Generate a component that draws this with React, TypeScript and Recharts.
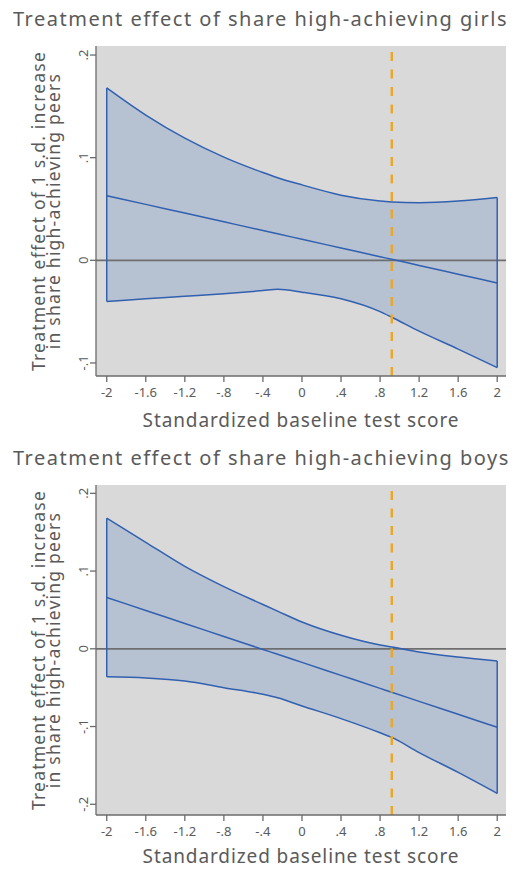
import React from "react"
import { ComposedChart, Area, Line, XAxis, YAxis, CartesianGrid, ReferenceLine } from "recharts"

const X_VALUES = [-2, -1.6, -1.2, -0.8, -0.4, -0.25, 0, 0.4, 0.8, 0.92, 1.2, 1.6, 2]
const X_TICKS = [-2, -1.6, -1.2, -0.8, -0.4, 0, 0.4, 0.8, 1.2, 1.6, 2]
const X_TICK_LABELS = ["-2", "-1.6", "-1.2", "-.8", "-.4", "0", ".4", ".8", "1.2", "1.6", "2"]
const CUTOFF = 0.92

// girls panel
const GIRLS_UPPER = [0.168, 0.1415, 0.119, 0.1005, 0.0855, 0.0805, 0.0735, 0.0635, 0.0578, 0.0569, 0.0561, 0.0577, 0.0613]
const GIRLS_MID = [0.063, 0.0545, 0.046, 0.0375, 0.029, 0.0258, 0.0205, 0.012, 0.0035, 0.001, -0.005, -0.0135, -0.022]
const GIRLS_LOWER = [-0.04, -0.0375, -0.035, -0.0325, -0.0295, -0.0283, -0.031, -0.0375, -0.05, -0.0555, -0.069, -0.0865, -0.1045]
const GIRLS_Y_TICKS = [-0.1, 0, 0.1, 0.2]
const GIRLS_Y_LABELS = ["-.1", "0", ".1", ".2"]

// boys panel
const BOYS_UPPER = [0.168, 0.137, 0.106, 0.08, 0.057, 0.0485, 0.0345, 0.0174, 0.0049, 0.0023, -0.004, -0.0105, -0.0157]
const BOYS_MID = [0.066, 0.0493, 0.0326, 0.0159, -0.0008, -0.0071, -0.0175, -0.0342, -0.0509, -0.0559, -0.0676, -0.0843, -0.101]
const BOYS_LOWER = [-0.036, -0.0375, -0.0415, -0.05, -0.0585, -0.063, -0.0735, -0.0898, -0.108, -0.114, -0.1335, -0.159, -0.186]
const BOYS_Y_TICKS = [-0.2, -0.1, 0, 0.1, 0.2]
const BOYS_Y_LABELS = ["-.2", "-.1", "0", ".1", ".2"]

const FONT = "'Noto Sans', sans-serif"
const TEXT = "#5a5a5a"
const AXIS = "#6b6b6b"
const BLUE = "#3160b0"
const BAND = "#b6c1d2"
const ORANGE = "#eaa82a"

const W = 529
const PLOT_LEFT = 96
const PLOT_RIGHT = 506

function XTick({ x, y, payload }: any) {
  const i = X_TICKS.indexOf(payload.value)
  return (
    <text x={x} y={y + 15} textAnchor="middle" fontFamily={FONT} fontSize={13} fill={TEXT}>
      {i >= 0 ? X_TICK_LABELS[i] : payload.value}
    </text>
  )
}

function makeYTick(ticks: number[], labels: string[]) {
  return ({ x, y, payload }: any) => {
    const i = ticks.indexOf(payload.value)
    return (
      <text x={x} y={y} transform={`rotate(-90 ${x} ${y})`} textAnchor="middle" fontFamily={FONT} fontSize={13} fill={TEXT}>
        {i >= 0 ? labels[i] : payload.value}
      </text>
    )
  }
}

interface PanelProps {
  title: string
  top: number
  height: number
  plotTop: number
  xAxisHeight: number
  xLabelGap: number
  upper: number[]
  mid: number[]
  lower: number[]
  yDomain: [number, number]
  yTicks: number[]
  yLabels: string[]
}

function Panel({ title, top, height, plotTop, xAxisHeight, xLabelGap, upper, mid, lower, yDomain, yTicks, yLabels }: PanelProps) {
  const data = X_VALUES.map((x, i) => ({ x, band: [lower[i], upper[i]], upper: upper[i], mid: mid[i], lower: lower[i] }))
  const plotBottom = height - xAxisHeight
  const plotMidY = (plotTop + plotBottom) / 2
  const last = X_VALUES.length - 1
  const YTick = makeYTick(yTicks, yLabels)

  return (
    <div style={{ position: "absolute", left: 0, top, width: W, height }}>
      <div
        style={{
          position: "absolute", left: 13, top: plotTop - 39, fontFamily: FONT, fontSize: 20,
          letterSpacing: "1.5px", lineHeight: "24px", color: TEXT, whiteSpace: "nowrap",
        }}
      >
        {title}
      </div>
      <div
        style={{
          position: "absolute", left: 46 - 200, top: plotMidY - 15, width: 400, height: 30,
          transform: "rotate(-90deg)", textAlign: "center", fontFamily: FONT, fontSize: 17.5,
          letterSpacing: "1.2px", lineHeight: "15px", color: TEXT, whiteSpace: "nowrap",
        }}
      >
        Treatment effect of 1 s.d. increase
        <br />
        in share high-achieving peers
      </div>
      <div
        style={{
          position: "absolute", left: (PLOT_LEFT + PLOT_RIGHT) / 2 - 200, top: plotBottom + xLabelGap - 8, width: 400,
          textAlign: "center", fontFamily: FONT, fontSize: 19, letterSpacing: "0.9px", lineHeight: "16px",
          color: TEXT,
        }}
      >
        Standardized baseline test score
      </div>
      <ComposedChart
        width={W}
        height={height}
        data={data}
        margin={{ top: plotTop, right: W - PLOT_RIGHT, bottom: 0, left: PLOT_LEFT - 60 }}
      >
        <CartesianGrid fill="#d9d9d9" stroke="none" horizontal={false} vertical={false} />
        <XAxis
          type="number"
          dataKey="x"
          domain={[-2.11, 2.09]}
          ticks={X_TICKS}
          allowDataOverflow
          height={xAxisHeight}
          tickSize={6}
          tickMargin={0}
          tick={<XTick />}
          axisLine={{ stroke: AXIS, strokeWidth: 1.3 }}
          tickLine={{ stroke: AXIS, strokeWidth: 1.3 }}
        />
        <YAxis
          type="number"
          domain={yDomain}
          ticks={yTicks}
          allowDataOverflow
          width={60}
          tickSize={6}
          tickMargin={2}
          tick={<YTick />}
          axisLine={{ stroke: AXIS, strokeWidth: 1.3 }}
          tickLine={{ stroke: AXIS, strokeWidth: 1.3 }}
        />
        <Area dataKey="band" type="monotone" fill={BAND} fillOpacity={1} stroke="none" isAnimationActive={false} />
        <ReferenceLine y={0} stroke="#6e6e6e" strokeWidth={1.8} />
        <Line dataKey="upper" type="monotone" stroke={BLUE} strokeWidth={1.5} dot={false} isAnimationActive={false} />
        <Line dataKey="mid" type="monotone" stroke={BLUE} strokeWidth={1.5} dot={false} isAnimationActive={false} />
        <Line dataKey="lower" type="monotone" stroke={BLUE} strokeWidth={1.5} dot={false} isAnimationActive={false} />
        <ReferenceLine
          segment={[{ x: X_VALUES[0], y: lower[0] }, { x: X_VALUES[0], y: upper[0] }]}
          stroke={BLUE}
          strokeWidth={1.5}
        />
        <ReferenceLine
          segment={[{ x: X_VALUES[last], y: lower[last] }, { x: X_VALUES[last], y: upper[last] }]}
          stroke={BLUE}
          strokeWidth={1.5}
        />
        <ReferenceLine x={CUTOFF} stroke={ORANGE} strokeWidth={2.5} strokeDasharray="9 8.5" />
      </ComposedChart>
    </div>
  )
}

export default function App() {
  return (
    <div style={{ position: "absolute", left: 0, top: 0, width: W, height: 869, background: "#fff" }}>
      <Panel
        title="Treatment effect of share high-achieving girls"
        top={0}
        height={435}
        plotTop={46}
        xAxisHeight={59}
        xLabelGap={44}
        upper={GIRLS_UPPER}
        mid={GIRLS_MID}
        lower={GIRLS_LOWER}
        yDomain={[-0.1127, 0.2088]}
        yTicks={GIRLS_Y_TICKS}
        yLabels={GIRLS_Y_LABELS}
      />
      <Panel
        title="Treatment effect of share high-achieving boys"
        top={435}
        height={434}
        plotTop={50}
        xAxisHeight={54}
        xLabelGap={41}
        upper={BOYS_UPPER}
        mid={BOYS_MID}
        lower={BOYS_LOWER}
        yDomain={[-0.2138, 0.2107]}
        yTicks={BOYS_Y_TICKS}
        yLabels={BOYS_Y_LABELS}
      />
    </div>
  )
}
